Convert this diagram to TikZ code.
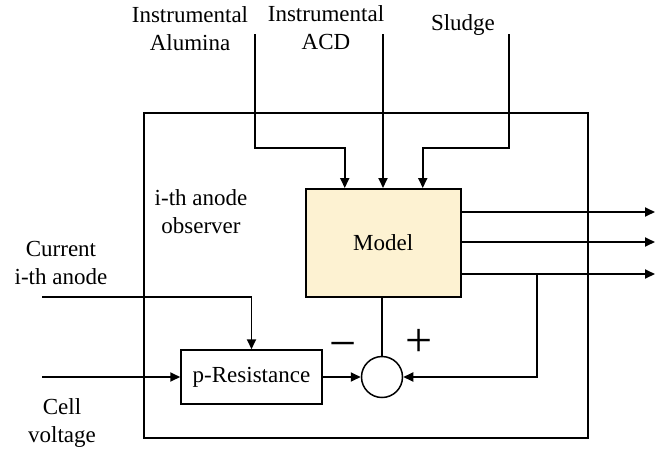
\documentclass[tikz,border=0pt]{standalone}
\usepackage{fontspec}
\setmainfont{Liberation Serif}
\usetikzlibrary{arrows.meta}
\definecolor{modelfill}{HTML}{FDF2D2}
\begin{document}
\begin{tikzpicture}[x=1pt,y=-1pt,
  line/.style={line width=1.8pt},
  arr/.style={line width=1.8pt, -{Triangle[length=10pt,width=9pt]}},
  box/.style={draw, line width=1.5pt, inner sep=0pt},
  lbl/.style={font=\fontsize{23}{28}\selectfont, align=center},
  sign/.style={font=\fontsize{48}{48}\selectfont, inner sep=0pt}]
\useasboundingbox (0,0) rectangle (656,453);
% observer box
\node[box, minimum width=444pt, minimum height=325pt, anchor=north west] (obs) at (143,112) {};
% model
\node[box, fill=modelfill, minimum width=155pt, minimum height=108pt, anchor=north west, lbl] (model) at (305,188) {Model};
% p-Resistance
\node[box, minimum width=141pt, minimum height=54pt, lbl] (pres) at (251.5,377) {p-Resistance};
% summing junction
\node[draw, circle, line width=1.5pt, minimum size=41pt, inner sep=0pt] (sum) at (382,377) {};
% labels
\node[lbl] (tA) at (190,29) {Instrumental\\Alumina};
\node[lbl] (tB) at (326,28) {Instrumental\\ACD};
\node[lbl] (tC) at (463,25) {Sludge};
\node[lbl] (tD) at (201,212) {i-th anode\\observer};
\node[lbl] (tE) at (61,263) {Current\\i-th anode};
\node[lbl] (tF) at (62,423) {Cell\\voltage};
\node[sign] (minus) at (343,351) {−};
\node[sign] (plus) at (419,343) {+};
% inputs to model
\coordinate (inA) at (255,34);
\coordinate (bA) at (255,148);
\coordinate (inB) at (383,34);
\coordinate (inC) at (509,34);
\coordinate (bC) at (509,148);
\draw[arr] (inA) -- (bA) -| ([xshift=-38.5pt]model.north);
\draw[arr] (inB) -- (inB |- model.north);
\draw[arr] (inC) -- (bC) -| ([xshift=39.5pt]model.north);
% outputs
\coordinate (o1) at (655,212);
\coordinate (o2) at (655,242);
\coordinate (o3) at (655,274);
\draw[arr] (model.east |- o1) -- (o1);
\draw[arr] (model.east |- o2) -- (o2);
\draw[arr] (model.east |- o3) -- (o3);
% feedback
\coordinate (fb) at (537,274);
\draw[arr] (fb) |- (sum.east);
\draw[line] (sum.north |- model.south) -- (sum.north);
\draw[arr] (pres.east) -- (sum.west);
% external inputs
\coordinate (cv) at (42,377);
\coordinate (cur) at (42,297);
\draw[arr] (cv) -- (pres.west);
\draw[arr] (cur) -| (pres.north);
\end{tikzpicture}
\end{document}
